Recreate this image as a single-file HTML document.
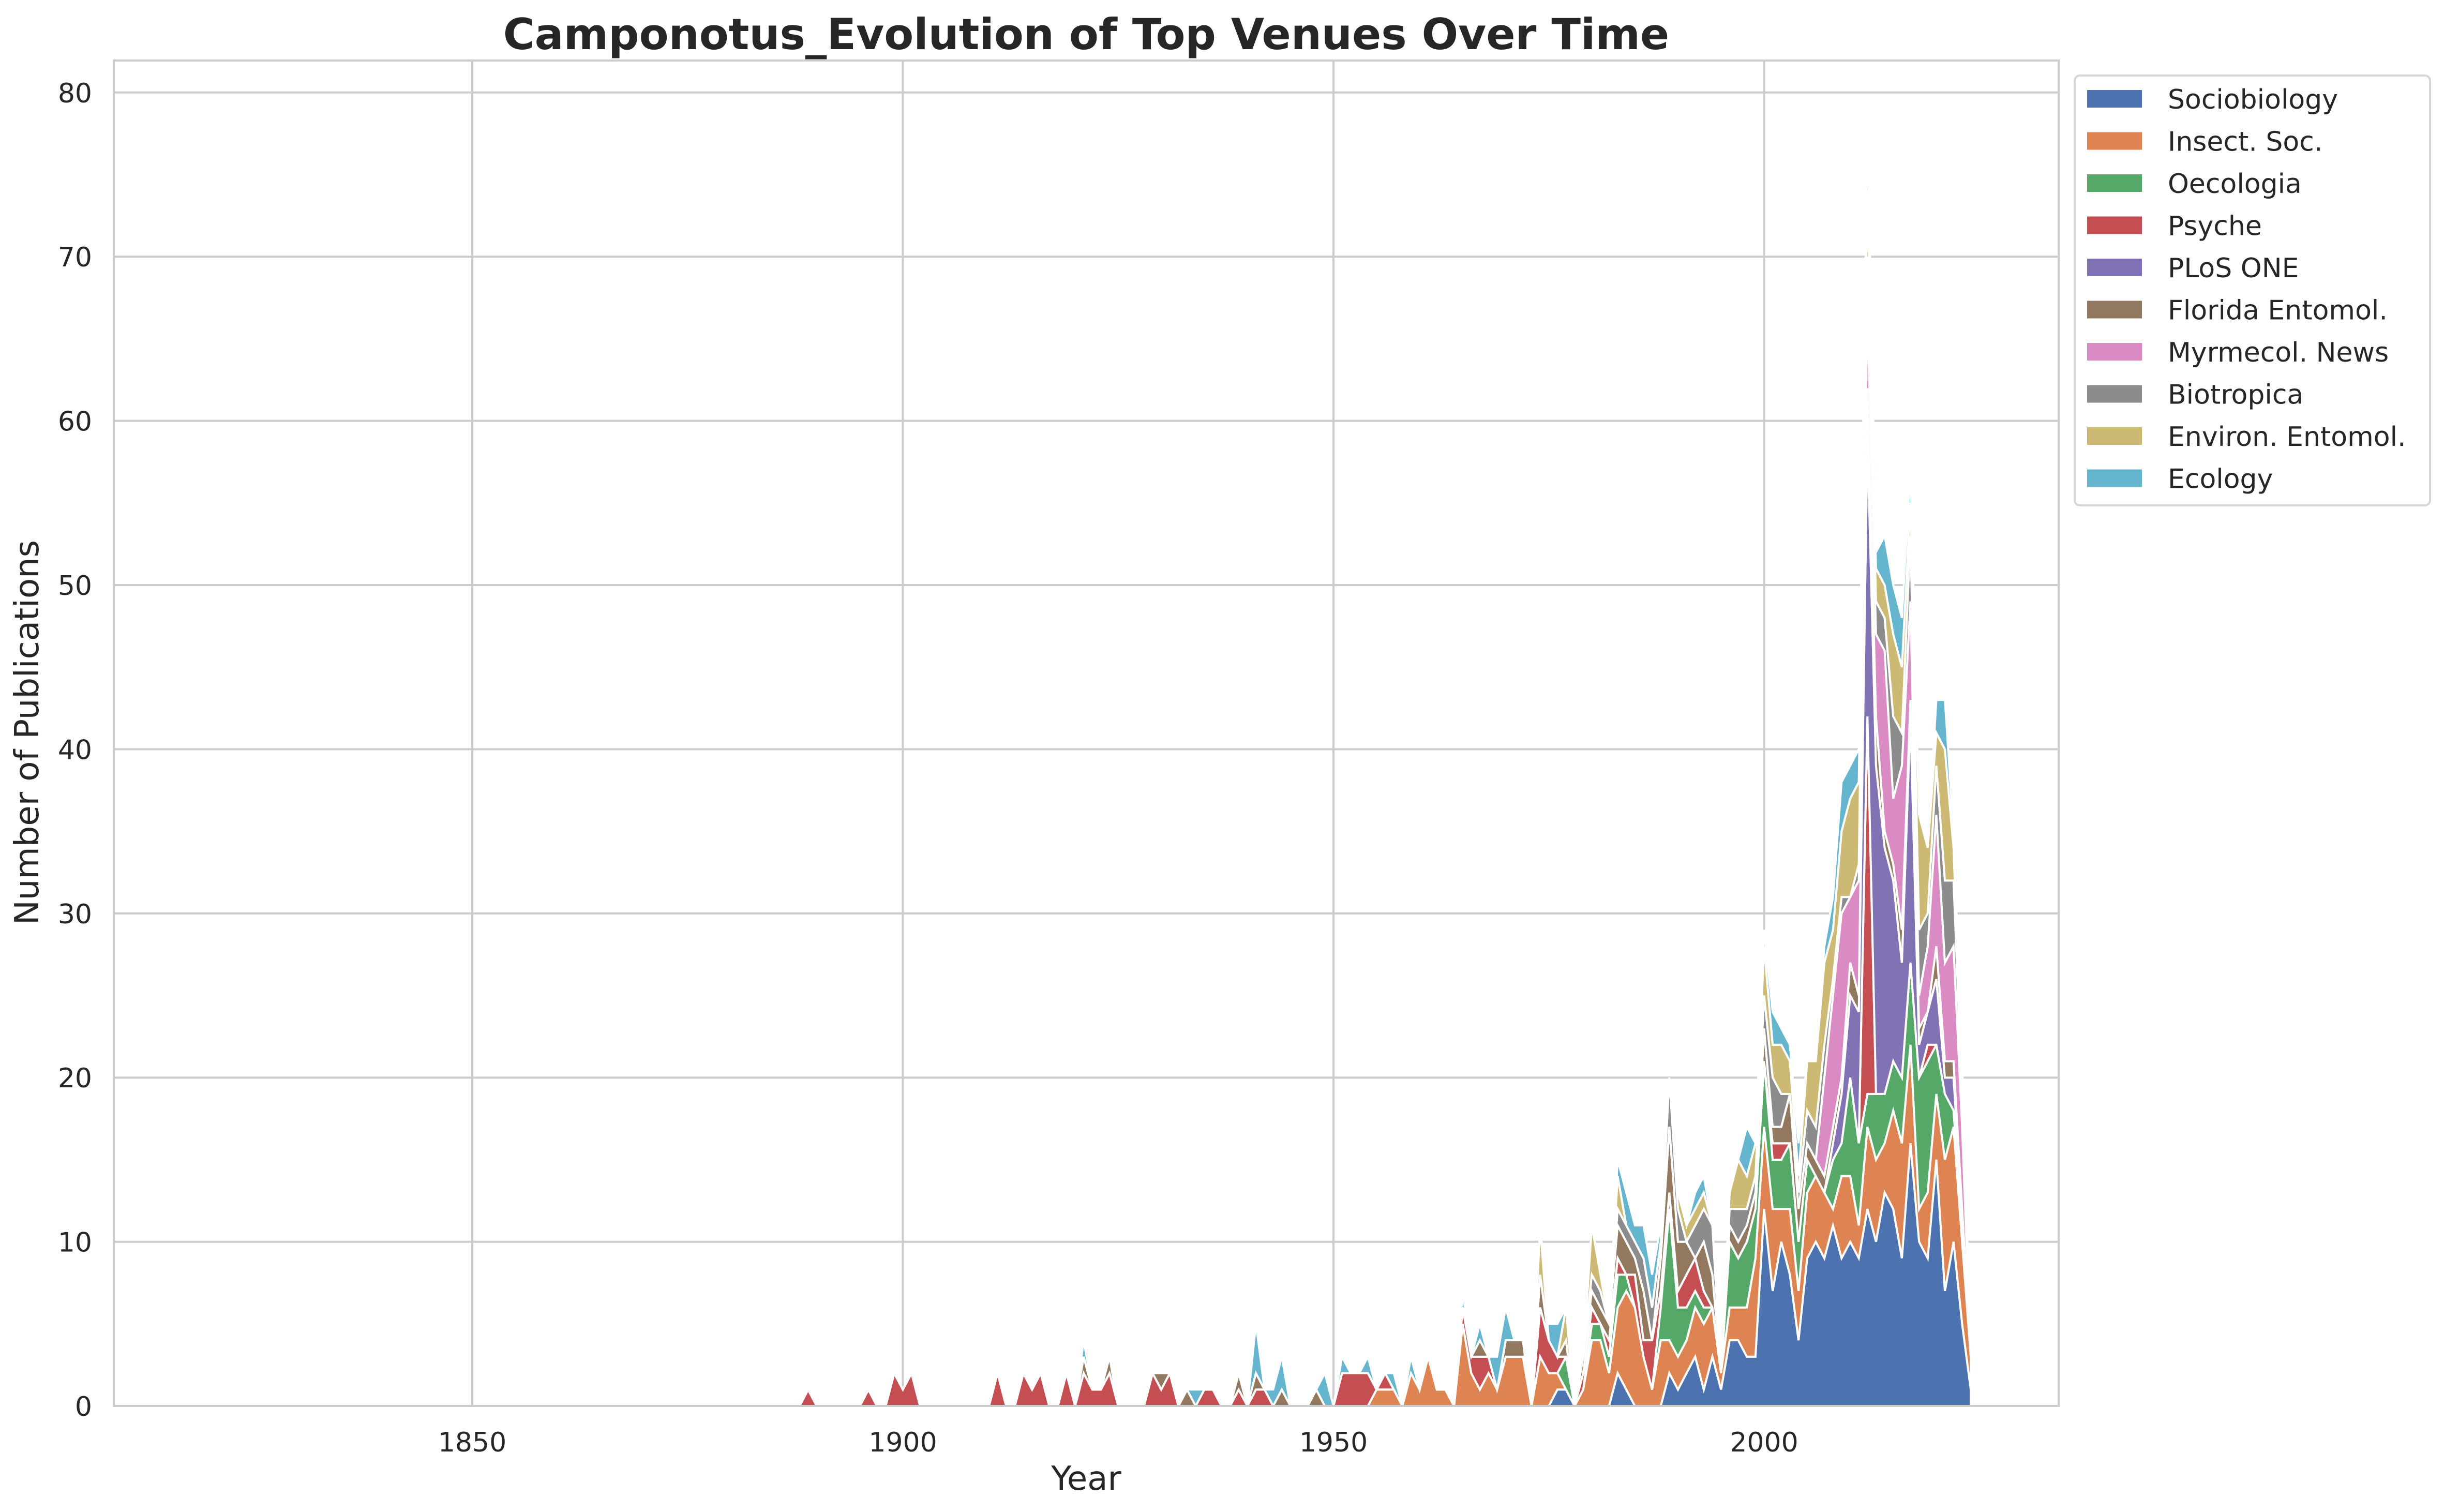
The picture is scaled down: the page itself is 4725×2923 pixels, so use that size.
<!DOCTYPE html>
<html><head><meta charset="utf-8"><style>
html,body{margin:0;padding:0;background:#fff}
svg{display:block}
text{font-family:"DejaVu Sans","Liberation Sans",sans-serif;fill:#262626}
</style></head><body>
<svg id="chart" width="4725" height="2923" viewBox="0 0 4725 2923" xmlns="http://www.w3.org/2000/svg">
<rect width="4725" height="2923" fill="#fff"/>
<g id="grid"></g>
<g id="areas"></g>
<rect x="220" y="117" width="3760" height="2601" fill="none" stroke="#cccccc" stroke-width="4"/>
<g id="ticks"></g>
<text x="2100" y="95" text-anchor="middle" font-size="83" font-weight="bold">Camponotus_Evolution of Top Venues Over Time</text>
<text x="2100" y="2880" text-anchor="middle" font-size="64">Year</text>
<text x="0" y="0" transform="translate(74,1416) rotate(-90)" text-anchor="middle" font-size="64">Number of Publications</text>
<g id="legend"></g>
</svg>
<script>
const yearStart = 1819, yearEnd = 2024;
const seriesNames = ["Sociobiology","Insect. Soc.","Oecologia","Psyche","PLoS ONE","Florida Entomol.","Myrmecol. News","Biotropica","Environ. Entomol.","Ecology"];
const seriesColors = ["#4c72b0","#dd8452","#55a868","#c44e52","#8172b3","#937860","#da8bc3","#8c8c8c","#ccb974","#64b5cd"];
const xTicks = [1850,1900,1950,2000];
const yTicks = [0,10,20,30,40,50,60,70,80];
const sociobiology = {1976:1,1977:1,1983:2,1984:1,1989:2,1990:1,1991:2,1992:3,1993:1,1994:3,1995:1,1996:4,1997:4,1998:3,1999:3,2000:12,2001:7,2002:10,2003:8,2004:4,2005:9,2006:10,2007:9,2008:11,2009:9,2010:10,2011:9,2012:12,2013:10,2014:13,2015:12,2016:9,2017:16,2018:10,2019:9,2020:15,2021:7,2022:10,2023:5,2024:1};
const insectSoc = {1955:1,1956:1,1957:1,1959:2,1960:1,1961:3,1962:1,1963:1,1965:5,1966:2,1967:1,1968:2,1969:1,1970:3,1971:3,1972:3,1974:3,1975:2,1976:1,1979:1,1980:4,1981:4,1982:2,1983:4,1984:6,1985:6,1986:3,1987:1,1988:4,1989:2,1990:2,1991:2,1992:3,1993:4,1994:3,1995:1,1996:2,1997:2,1998:3,1999:6,2000:5,2001:5,2002:2,2003:4,2004:3,2005:4,2006:4,2007:4,2008:1,2009:5,2010:4,2011:2,2012:5,2013:5,2014:3,2015:6,2016:7,2017:6,2018:2,2019:4,2020:4,2021:8,2022:7,2023:5,2024:2};
const oecologia = {1977:2,1980:1,1981:1,1982:1,1983:2,1984:1,1988:2,1989:8,1990:3,1991:2,1992:1,1993:1,1996:4,1997:3,1998:4,1999:3,2000:4,2001:3,2002:3,2003:4,2004:3,2005:2,2008:3,2009:2,2010:6,2011:5,2012:2,2013:4,2014:3,2015:3,2016:4,2017:5,2018:8,2019:8,2020:3,2021:4,2022:1,2023:1};
const psyche = {1889:1,1896:1,1899:2,1900:1,1901:2,1911:2,1914:2,1915:1,1916:2,1919:2,1921:2,1922:1,1923:1,1924:2,1929:2,1930:1,1931:2,1935:1,1936:1,1939:1,1941:1,1942:1,1951:2,1952:2,1953:2,1954:2,1956:1,1965:1,1966:1,1967:2,1968:1,1974:3,1975:2,1976:1,1979:1,1980:1,1982:1,1983:1,1985:2,1986:1,1987:3,1988:1,1989:1,1990:1,1991:2,1992:2,1993:1,2001:1,2002:1,2012:23,2019:1};
const plosOne = {2008:1,2009:3,2010:5,2011:8,2012:17,2013:20,2014:15,2015:11,2016:7,2017:15,2018:2,2019:2,2020:4,2021:1,2022:2,2023:1};
const floridaEntomol = {1921:1,1924:1,1930:1,1933:1,1939:1,1941:1,1944:1,1948:1,1967:1,1970:1,1971:1,1972:1,1974:2,1977:1,1979:1,1980:1,1981:1,1982:1,1983:2,1984:2,1985:1,1986:3,1988:2,1989:4,1990:3,1991:2,1993:3,1994:2,1996:1,1997:1,1998:1,1999:1,2000:2,2001:1,2002:1,2003:3,2004:2,2005:1,2006:1,2007:1,2008:1,2009:1,2010:2,2011:1,2012:3,2013:3,2014:1,2015:1,2016:2,2017:1,2018:1,2020:2,2021:1,2022:1};
const myrmecolNews = {2007:6,2008:8,2009:10,2010:4,2011:7,2012:5,2013:5,2014:11,2015:4,2016:10,2017:6,2018:2,2019:4,2020:8,2021:6,2022:7,2023:5};
const biotropica = {1980:1,1981:1,1983:1,1984:1,1985:1,1986:2,1987:2,1988:1,1989:3,1990:2,1992:2,1993:2,1994:3,1996:1,1997:2,1998:1,1999:1,2000:2,2001:3,2002:2,2004:1,2005:2,2006:2,2007:2,2008:1,2009:1,2011:1,2012:3,2013:2,2014:2,2015:5,2016:2,2017:4,2018:4,2019:2,2020:3,2021:5,2022:4,2023:2};
const environEntomol = {1974:3,1977:2,1980:3,1981:1,1983:2,1990:1,1991:1,1992:1,1993:1,1996:1,1997:3,1998:2,1999:2,2000:3,2001:2,2002:3,2003:2,2004:1,2005:3,2006:4,2007:5,2008:3,2009:4,2010:6,2011:5,2012:4,2013:2,2014:2,2015:5,2016:4,2017:2,2018:7,2019:4,2020:2,2021:8,2022:2,2023:1};
const ecology = {1921:1,1934:1,1941:3,1943:1,1944:2,1949:2,1951:1,1954:1,1957:1,1959:1,1965:1,1967:1,1969:2,1970:2,1975:1,1976:2,1979:1,1983:1,1984:2,1985:1,1986:2,1987:2,1988:1,1992:1,1993:1,1998:3,2000:1,2001:2,2002:1,2003:1,2004:2,2007:1,2008:2,2009:3,2010:2,2011:2,2012:4,2013:1,2014:3,2015:3,2016:3,2017:2,2020:2,2021:3,2022:1,2023:1};
const seriesData = [sociobiology,insectSoc,oecologia,psyche,plosOne,floridaEntomol,myrmecolNews,biotropica,environEntomol,ecology];

const NS = "http://www.w3.org/2000/svg";
const xScale = yr => 913 + (yr - 1850) * 16.65;
const yScale = v => 2718 - v * 31.74;

const grid = document.getElementById('grid');
const ticks = document.getElementById('ticks');
xTicks.forEach(t => {
  const l = document.createElementNS(NS,'line');
  l.setAttribute('x1', xScale(t)); l.setAttribute('x2', xScale(t));
  l.setAttribute('y1', 117); l.setAttribute('y2', 2718);
  l.setAttribute('stroke','#cccccc'); l.setAttribute('stroke-width','4');
  
  
  grid.appendChild(l);
  const tx = document.createElementNS(NS,'text');
  tx.setAttribute('x', xScale(t)); tx.setAttribute('y', 2806);
  tx.setAttribute('text-anchor','middle'); tx.setAttribute('font-size','52');
  tx.textContent = t;
  
  
  ticks.appendChild(tx);
});
yTicks.forEach(t => {
  const l = document.createElementNS(NS,'line');
  l.setAttribute('x1', 220); l.setAttribute('x2', 3980);
  l.setAttribute('y1', yScale(t)); l.setAttribute('y2', yScale(t));
  l.setAttribute('stroke','#cccccc'); l.setAttribute('stroke-width','4');
  
  
  grid.appendChild(l);
  const tx = document.createElementNS(NS,'text');
  tx.setAttribute('x', 178); tx.setAttribute('y', yScale(t) + 19);
  tx.setAttribute('text-anchor','end'); tx.setAttribute('font-size','52');
  tx.textContent = t;
  
  
  ticks.appendChild(tx);
});

const years = [];
for (let y = yearStart; y <= yearEnd; y++) years.push(y);
const areas = document.getElementById('areas');
let base = years.map(() => 0);
seriesData.forEach((s, i) => {
  const top = years.map((y, k) => base[k] + (s[y] || 0));
  let d = '';
  years.forEach((y, k) => { d += (k ? 'L' : 'M') + xScale(y).toFixed(1) + ',' + yScale(top[k]).toFixed(1); });
  for (let k = years.length - 1; k >= 0; k--) d += 'L' + xScale(years[k]).toFixed(1) + ',' + yScale(base[k]).toFixed(1);
  d += 'Z';
  const p = document.createElementNS(NS,'path');
  p.setAttribute('d', d);
  p.setAttribute('fill', seriesColors[i]);
  p.setAttribute('stroke', '#ffffff');
  p.setAttribute('stroke-width', '4');
  p.setAttribute('stroke-linejoin', 'miter');
  
  
  areas.appendChild(p);
  base = top;
});

const legend = document.getElementById('legend');
const box = document.createElementNS(NS,'rect');
box.setAttribute('x', 4011); box.setAttribute('y', 146);
box.setAttribute('width', 687); box.setAttribute('height', 831);
box.setAttribute('rx', 10); box.setAttribute('fill', '#fff');
box.setAttribute('stroke', '#d6d6d6'); box.setAttribute('stroke-width', '4');


legend.appendChild(box);
seriesNames.forEach((n, i) => {
  const cy = 191 + i * 81.5;
  const g = document.createElementNS(NS,'g');
  
  
  const r = document.createElementNS(NS,'rect');
  r.setAttribute('x', 4035); r.setAttribute('y', cy - 17);
  r.setAttribute('width', 106); r.setAttribute('height', 34);
  r.setAttribute('fill', seriesColors[i]);
  
  
  g.appendChild(r);
  const t = document.createElementNS(NS,'text');
  t.setAttribute('x', 4191); t.setAttribute('y', cy + 19);
  t.setAttribute('font-size', '52');
  t.textContent = n;
  
  
  g.appendChild(t);
  legend.appendChild(g);
});
</script>
</body></html>
